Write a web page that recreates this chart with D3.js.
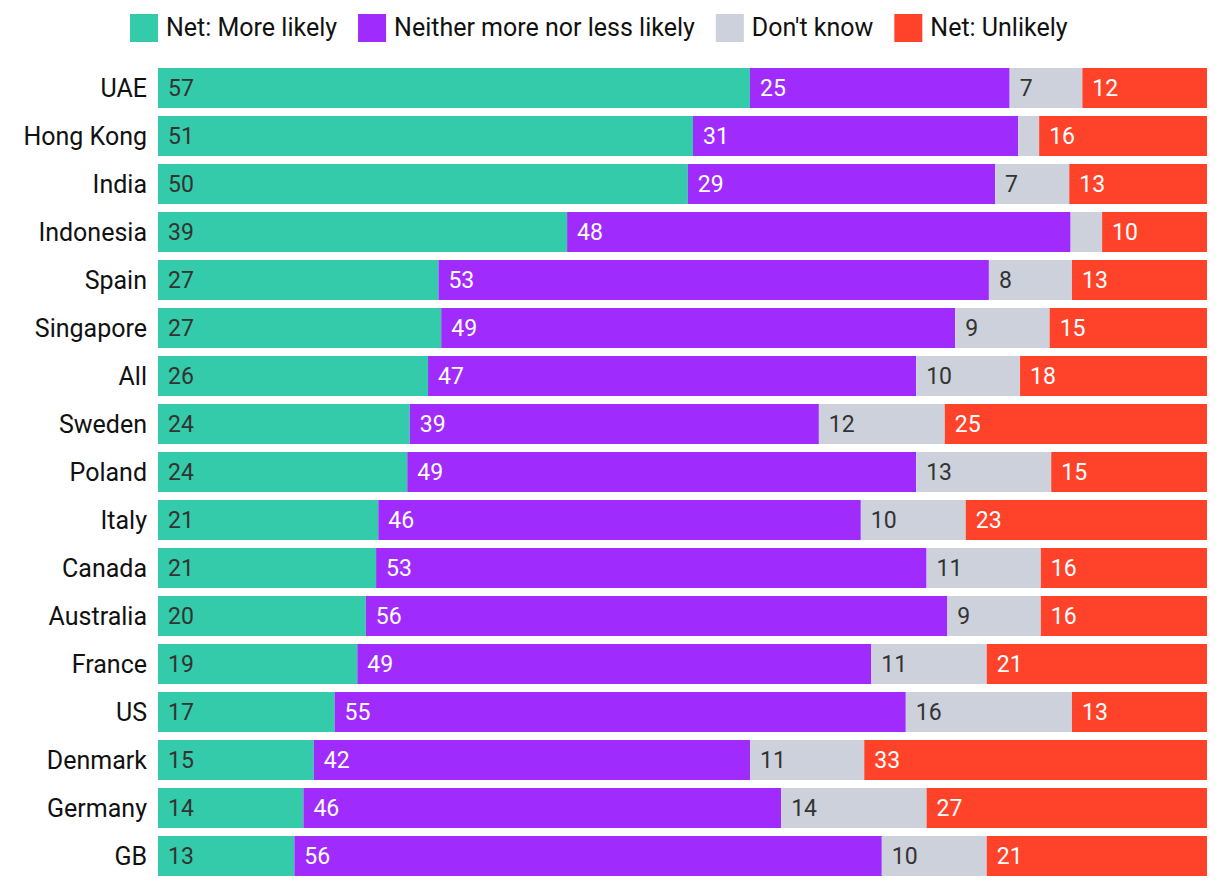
<!DOCTYPE html>
<html>
<head>
<meta charset="utf-8">
<script src="https://cdn.jsdelivr.net/npm/d3@7"></script>
<style>
  html, body { margin: 0; padding: 0; background: #fff; }
  svg { display: block; font-family: Roboto, "Noto Sans", sans-serif; }
</style>
</head>
<body>
<svg id="chart" width="1220" height="888"></svg>
<script>
// answers by country, in percent
const countries = ["UAE", "Hong Kong", "India", "Indonesia", "Spain", "Singapore", "All", "Sweden",
  "Poland", "Italy", "Canada", "Australia", "France", "US", "Denmark", "Germany", "GB"];
const moreLikely = [57, 51, 50, 39, 27, 27, 26, 24, 24, 21, 21, 20, 19, 17, 15, 14, 13];
const neither    = [25, 31, 29, 48, 53, 49, 47, 39, 49, 46, 53, 56, 49, 55, 42, 46, 56];
const dontKnow   = [7, 2, 7, 3, 8, 9, 10, 12, 13, 10, 11, 9, 11, 16, 11, 14, 10];
const unlikely   = [12, 16, 13, 10, 13, 15, 18, 25, 15, 23, 16, 16, 21, 13, 33, 27, 21];

const seriesNames = ["Net: More likely", "Neither more nor less likely", "Don't know", "Net: Unlikely"];
const seriesKeys = ["more", "neither", "dk", "unlikely"];
const colors = ["#33cba9", "#a02bfd", "#cdd1dc", "#ff432b"];
const textColors = ["#333333", "#ffffff", "#333333", "#ffffff"];

const rows = countries.map((c, i) => ({
  country: c, more: moreLikely[i], neither: neither[i], dk: dontKnow[i], unlikely: unlikely[i]
}));

const svg = d3.select("#chart");
const margin = { left: 158, right: 13, top: 64 };

const x = d3.scaleLinear().domain([0, 1]).range([margin.left, 1220 - margin.right]);
const y = d3.scaleBand().domain(countries)
  .range([margin.top, margin.top + 48 * countries.length])
  .paddingInner(8 / 48).paddingOuter(4 / 48);

const stacked = d3.stack().keys(seriesKeys).offset(d3.stackOffsetExpand)(rows);

const layers = svg.append("g").selectAll("g").data(stacked).join("g")
  .attr("fill", (d, i) => colors[i]);

layers.selectAll("rect").data(d => d.map(p => ({ p, key: d.key }))).join("rect")
  .attr("x", d => x(d.p[0]))
  .attr("y", d => y(d.p.data.country))
  .attr("width", d => x(d.p[1]) - x(d.p[0]))
  .attr("height", y.bandwidth());

// value labels, left aligned inside each segment
stacked.forEach((layer, li) => {
  svg.append("g").selectAll("text").data(layer.filter(p => p.data[layer.key] >= 5)).join("text")
    .attr("x", p => x(p[0]) + 10)
    .attr("y", p => y(p.data.country) + y.bandwidth() / 2)
    .attr("dy", "0.36em")
    .attr("fill", textColors[li])
    .attr("font-size", 23)
    .text(p => p.data[layer.key]);
});

// country labels
svg.append("g").selectAll("text").data(countries).join("text")
  .attr("x", margin.left - 11)
  .attr("y", d => y(d) + y.bandwidth() / 2)
  .attr("dy", "0.36em")
  .attr("text-anchor", "end")
  .attr("fill", "#111")
  .attr("font-size", 25)
  .text(d => d);

// legend
const legend = svg.append("g");
let lx = 130;
seriesNames.forEach((name, i) => {
  legend.append("rect").attr("x", lx).attr("y", 14).attr("width", 28).attr("height", 28)
    .attr("fill", colors[i]);
  const t = legend.append("text").attr("x", lx + 36).attr("y", 27).attr("dy", "0.36em")
    .attr("font-size", 25).attr("fill", "#111").text(name);
  lx += 36 + t.node().getComputedTextLength() + 21;
});
</script>
</body>
</html>
